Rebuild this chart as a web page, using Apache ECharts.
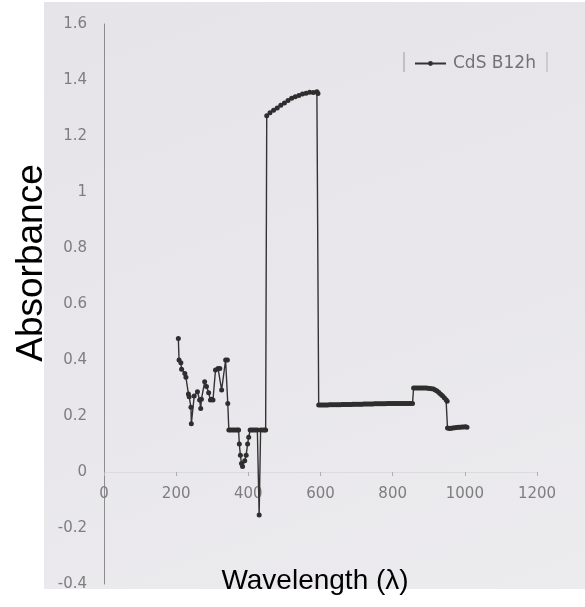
<!DOCTYPE html>
<html>
<head>
<meta charset="utf-8">
<script src="https://cdn.jsdelivr.net/npm/echarts@6/dist/echarts.min.js"></script>
<style>
  html, body { margin: 0; padding: 0; background: #ffffff; }
  #wrap { position: relative; width: 585px; height: 607px; overflow: hidden; }
  #paper { position: absolute; left: 44px; top: 2px; width: 541px; height: 587px;
           background: linear-gradient(160deg, #e6e4e8 0%, #e9e7eb 55%, #ecebee 100%); }
  #chart { position: absolute; left: 0; top: 0; width: 585px; height: 607px; }
</style>
</head>
<body>
<div id="wrap">
  <div id="paper"></div>
  <div id="chart"></div>
</div>
<script>
// UV-Vis absorbance spectrum of the CdS B12h sample
const seriesName = 'CdS B12h';

const wavelength = [
  206, 208, 213, 215, 224, 227, 234, 236, 241, 242, 250, 259, 265, 268, 270,
  279, 284, 290, 295, 298, 302, 309, 316, 321, 326, 337, 342, 343, 346,
  350, 355, 360, 365, 370, 373, 375, 378, 381, 384, 390, 394, 398, 401, 405,
  410, 415, 420, 425, 430, 434, 440, 445, 448,
  451, 460, 470, 480, 490, 500, 510, 520, 530, 540, 550, 560, 570, 580, 590, 593,
  595, 600, 605, 610, 615, 620, 625, 630, 635, 640, 645, 650, 655, 660, 665,
  670, 675, 680, 685, 690, 695, 700, 705, 710, 715, 720, 725, 730, 735, 740,
  745, 750, 755, 760, 765, 770, 775, 780, 785, 790, 795, 800, 805, 810, 815,
  820, 825, 830, 835, 840, 845, 850, 855,
  858, 863, 868, 873, 878, 883, 888, 893, 898, 903, 908, 913, 918, 923, 928,
  933, 938, 943, 948, 951,
  952, 957, 962, 967, 972, 977, 982, 987, 992, 997, 1002, 1006
];

const absorbance = [
  0.477, 0.40, 0.39, 0.367, 0.352, 0.338, 0.279, 0.269, 0.231, 0.172, 0.271, 0.287, 0.257, 0.227, 0.26,
  0.322, 0.305, 0.283, 0.257, 0.26, 0.257, 0.364, 0.37, 0.37, 0.293, 0.40, 0.40, 0.245, 0.15,
  0.15, 0.15, 0.15, 0.15, 0.15, 0.15, 0.10, 0.06, 0.03, 0.02, 0.04, 0.06, 0.10, 0.124, 0.15,
  0.15, 0.15, 0.15, 0.15, -0.154, 0.15, 0.15, 0.15, 0.15,
  1.272, 1.283, 1.292, 1.30, 1.31, 1.318, 1.327, 1.335, 1.34, 1.345, 1.35, 1.353, 1.356, 1.355, 1.358, 1.352,
  0.239, 0.239, 0.239, 0.239, 0.239, 0.239, 0.24, 0.24, 0.24, 0.24, 0.24, 0.24, 0.24, 0.241, 0.241,
  0.241, 0.241, 0.241, 0.241, 0.242, 0.242, 0.242, 0.242, 0.242, 0.242, 0.243, 0.243, 0.243, 0.243, 0.243,
  0.243, 0.244, 0.244, 0.244, 0.244, 0.244, 0.244, 0.244, 0.245, 0.245, 0.245, 0.245, 0.245, 0.245, 0.245,
  0.245, 0.245, 0.245, 0.245, 0.245, 0.245, 0.245, 0.245,
  0.30, 0.30, 0.30, 0.30, 0.30, 0.30, 0.30, 0.30, 0.299, 0.298, 0.297, 0.296, 0.293, 0.289, 0.284,
  0.278, 0.272, 0.265, 0.258, 0.253,
  0.157, 0.155, 0.156, 0.157, 0.158, 0.159, 0.16, 0.16, 0.161, 0.161, 0.162, 0.16
];

const xMin = 0, xMax = 1200, xStep = 200;
const yMin = -0.4, yMax = 1.6, yStep = 0.2;

const xTitle = 'Wavelength (\u03bb)';
const yTitle = 'Absorbance';

const points = wavelength.map((w, i) => [w, absorbance[i]]);

const tickFont = { color: '#7e7e7e', fontSize: 15, fontFamily: '"DejaVu Sans", sans-serif' };

const chart = echarts.init(document.getElementById('chart'), null, { renderer: 'canvas' });

// plot box: left 104, right 48, top 24, bottom 23 -> height 560px for 2.0 units
const gridBottom = 23;
const gridHeight = 607 - 24 - gridBottom;
// shift the horizontal axis up so it sits on y = 0
const zeroOffset = -gridHeight * (0 - yMin) / (yMax - yMin);

chart.setOption({
  backgroundColor: 'transparent',
  animation: false,
  grid: { left: 104, right: 48, top: 24, bottom: gridBottom, containLabel: false },
  legend: {
    data: [seriesName],
    left: 409,
    top: 50,
    itemWidth: 31,
    itemHeight: 6,
    textStyle: {
      color: '#737373', fontSize: 17, fontFamily: '"DejaVu Sans", sans-serif',
      padding: [0, 0, 0, 2]
    }
  },
  xAxis: {
    type: 'value',
    min: xMin, max: xMax, interval: xStep,
    position: 'bottom',
    offset: zeroOffset,
    axisLine: { show: true, onZero: false, lineStyle: { color: '#dcdadd', width: 1 } },
    axisTick: { show: true, length: 4, lineStyle: { color: '#b0aeb1' } },
    axisLabel: Object.assign({ margin: 15, formatter: v => String(v) }, tickFont),
    splitLine: { show: false }
  },
  yAxis: {
    type: 'value',
    min: yMin, max: yMax, interval: yStep,
    axisLine: { show: true, onZero: false, lineStyle: { color: '#8c8c8c', width: 1 } },
    axisTick: { show: false },
    axisLabel: Object.assign({ margin: 17, formatter: v => String(+v.toFixed(1)) }, tickFont),
    splitLine: { show: false }
  },
  series: [{
    name: seriesName,
    type: 'line',
    data: points,
    symbol: 'circle',
    symbolSize: 5,
    showSymbol: true,
    lineStyle: { color: '#333333', width: 1.4 },
    itemStyle: { color: '#2e2e2e' },
    z: 3
  }],
  graphic: [
    // legend frame edges
    { type: 'line', shape: { x1: 404, y1: 52, x2: 404, y2: 72 }, style: { stroke: '#9a9a9a', lineWidth: 1 } },
    { type: 'line', shape: { x1: 547, y1: 52, x2: 547, y2: 72 }, style: { stroke: '#b0b0b0', lineWidth: 1 } },
    // axis titles
    {
      type: 'text',
      x: 32, y: 263,
      rotation: Math.PI / 2,
      style: {
        text: yTitle,
        fill: '#000000',
        font: '37px "Liberation Sans", Arial, sans-serif',
        textAlign: 'center',
        textVerticalAlign: 'middle'
      }
    },
    {
      type: 'text',
      x: 315, y: 581,
      style: {
        text: xTitle,
        fill: '#000000',
        font: '28px "Liberation Sans", Arial, sans-serif',
        textAlign: 'center',
        textVerticalAlign: 'middle'
      }
    }
  ]
});
</script>
</body>
</html>
